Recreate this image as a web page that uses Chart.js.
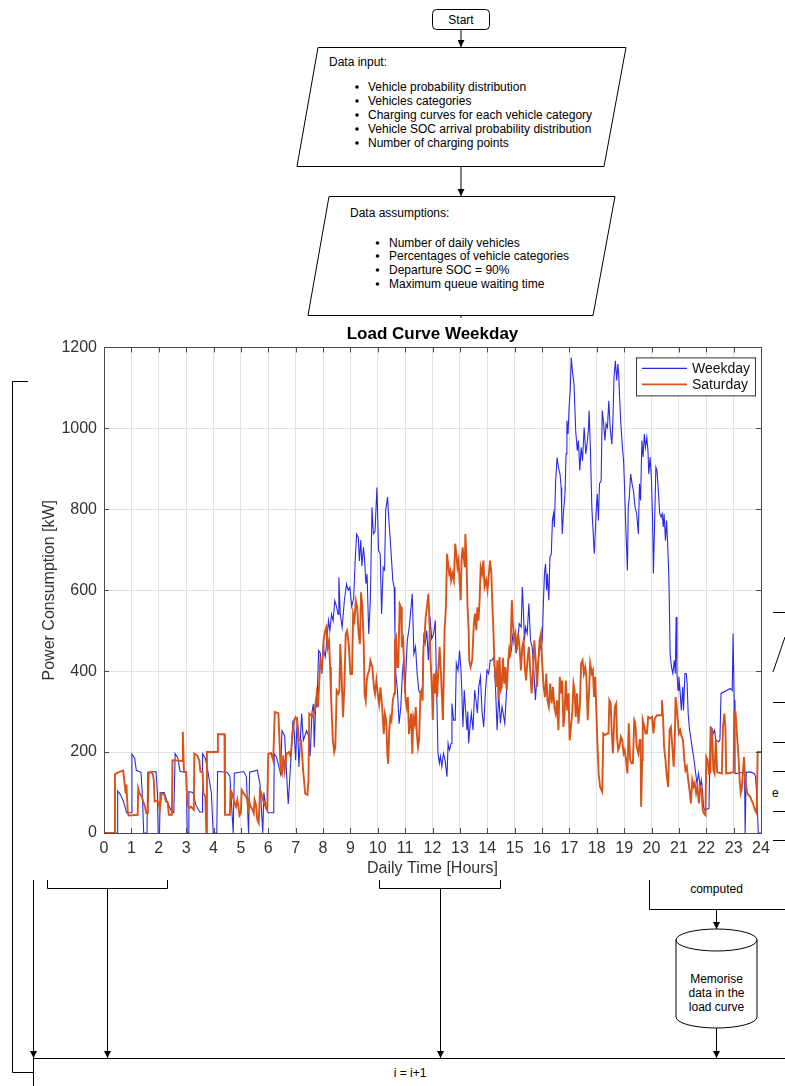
<!DOCTYPE html>
<html>
<head>
<meta charset="utf-8">
<script src="https://cdn.jsdelivr.net/npm/chart.js@4.4.1/dist/chart.umd.min.js"></script>
<style>
  html, body { margin: 0; padding: 0; background: #fff; }
  body { width: 785px; height: 1086px; position: relative; overflow: hidden;
         font-family: "Liberation Sans", Arial, Helvetica, sans-serif; }
  #flow { position: absolute; left: 0; top: 0; }
  #flow text { font-size: 12px; fill: #000; }
  #wrap { position: absolute; left: 28px; top: 318px; width: 743px; height: 562px; background: #fff; }
</style>
</head>
<body>

<svg id="flow" width="785" height="1086">
  <defs>
    <marker id="ah" viewBox="0 0 10 10" refX="10" refY="5" markerWidth="7" markerHeight="7" orient="auto">
      <path d="M0,0 L10,5 L0,10 z" fill="#000"/>
    </marker>
    <linearGradient id="fade" x1="0" y1="0" x2="0" y2="1">
      <stop offset="0" stop-color="#000"/>
      <stop offset="1" stop-color="#fff"/>
    </linearGradient>
  </defs>
  <g fill="none" stroke="#000" stroke-width="1">
    <rect x="432.5" y="9.5" width="57" height="20" rx="4" fill="#fff"/>
    <line x1="461" y1="30" x2="461" y2="47" marker-end="url(#ah)"/>
    <polygon points="318,47.5 626,47.5 604,166.5 297,166.5" fill="#fff"/>
    <line x1="461" y1="166.5" x2="461" y2="196" marker-end="url(#ah)"/>
    <polygon points="329,196.5 615,196.5 593,315.5 308,315.5" fill="#fff"/>
    <line x1="461" y1="315.5" x2="461" y2="330"/>
    <polyline points="28,381.5 12.5,381.5 12.5,1072.5 33,1072.5"/>
    <line x1="27.5" y1="498" x2="27.5" y2="662" stroke="url(#fade)"/>
    <line x1="33.5" y1="880" x2="33.5" y2="1058" marker-end="url(#ah)"/>
    <path d="M47.5,880 V888.5 H167.5 V880"/>
    <line x1="107.5" y1="888.5" x2="107.5" y2="1058" marker-end="url(#ah)"/>
    <path d="M379.5,880 V888.5 H500.5 V880"/>
    <line x1="440.5" y1="888.5" x2="440.5" y2="1058" marker-end="url(#ah)"/>
    <path d="M649.5,880 V909.5 H785"/>
    <line x1="716.5" y1="909.5" x2="716.5" y2="929" marker-end="url(#ah)"/>
    <path d="M676,940 A40.5,11 0 0 1 757,940 V1017 A40.5,11 0 0 1 676,1017 Z" fill="#fff"/>
    <path d="M676,940 A40.5,11 0 0 0 757,940"/>
    <line x1="716.5" y1="1028" x2="716.5" y2="1058" marker-end="url(#ah)"/>
    <line x1="33.5" y1="1058.5" x2="785" y2="1058.5"/>
    <line x1="33.5" y1="1058.5" x2="33.5" y2="1086"/>
    <line x1="773" y1="612.5" x2="785" y2="612.5"/>
    <line x1="773" y1="702.5" x2="785" y2="702.5"/>
    <line x1="773" y1="742.5" x2="785" y2="742.5"/>
    <line x1="773" y1="771.5" x2="785" y2="771.5"/>
    <line x1="773" y1="811.5" x2="785" y2="811.5"/>
    <line x1="773" y1="840.5" x2="785" y2="840.5"/>
    <line x1="773" y1="672" x2="785" y2="637"/>
  </g>
  <g fill="#000" stroke="none">
    <circle cx="357" cy="87" r="1.8"/><circle cx="357" cy="101" r="1.8"/>
    <circle cx="357" cy="115" r="1.8"/><circle cx="357" cy="129" r="1.8"/>
    <circle cx="357" cy="143" r="1.8"/>
    <circle cx="377.5" cy="243" r="1.8"/><circle cx="377.5" cy="256" r="1.8"/>
    <circle cx="377.5" cy="270" r="1.8"/><circle cx="377.5" cy="284" r="1.8"/>
  </g>
  <text x="461" y="23.5" text-anchor="middle">Start</text>
  <text x="329" y="66">Data input:</text>
  <text x="368" y="91">Vehicle probability distribution</text>
  <text x="368" y="105">Vehicles categories</text>
  <text x="368" y="119">Charging curves for each vehicle category</text>
  <text x="368" y="133">Vehicle SOC arrival probability distribution</text>
  <text x="368" y="147">Number of charging points</text>
  <text x="350" y="217">Data assumptions:</text>
  <text x="389" y="247">Number of daily vehicles</text>
  <text x="389" y="260">Percentages of vehicle categories</text>
  <text x="389" y="274">Departure SOC = 90%</text>
  <text x="389" y="288">Maximum queue waiting time</text>
  <text x="716.5" y="893" text-anchor="middle">computed</text>
  <text x="716.5" y="983" text-anchor="middle">Memorise</text>
  <text x="716.5" y="997" text-anchor="middle">data in the</text>
  <text x="716.5" y="1011" text-anchor="middle">load curve</text>
  <text x="410" y="1077" text-anchor="middle">i = i+1</text>
  <text x="772" y="797">e</text>
</svg>

<div id="wrap"><canvas id="chart" width="743" height="562"></canvas></div>

<script>
// Axis ranges and ticks
const hourRange = [0, 24];
const kwRange = [0, 1200];
const hourStep = 1;
const kwStep = 200;

const seriesNames = ['Weekday', 'Saturday'];

// [hour, kW]
const weekdayPoints = [
  [0,0],[0.49,0],[0.5,104],[0.6,95],[0.7,80],[0.78,62],[0.82,50],[1.0,50],[1.02,195],[1.12,185],
  [1.18,155],[1.35,150],[1.4,95],[1.45,0],[1.57,0],[1.6,150],[1.9,152],[1.95,100],[1.98,0],[2.03,0],
  [2.05,100],[2.2,100],[2.3,80],[2.45,55],[2.55,50],[2.6,196],[2.7,185],[2.78,152],[3.0,150],[3.04,0],
  [3.08,0],[3.1,102],[3.25,100],[3.35,70],[3.5,52],[3.58,52],[3.6,196],[3.7,185],[3.8,150],[3.92,100],
  [3.99,0],[4.12,0],[4.15,152],[4.5,150],[4.6,140],[4.72,0],[4.76,148],[5.1,152],[5.2,140],[5.28,0],
  [5.32,150],[5.6,155],[5.7,120],[5.8,0],[5.84,100],[5.92,60],[6.0,50],[6.2,50],[6.22,196],[6.3,188],
  [6.45,146],[6.5,253],[6.6,240],[6.67,146],[6.73,72],[6.8,150],[6.9,278],[6.95,250],[7.0,180],[7.06,286],
  [7.12,163],[7.22,295],[7.28,229],[7.4,253],[7.47,240],[7.53,190],[7.6,300],[7.65,319],[7.68,212],[7.74,332],
  [7.78,310],[7.84,451],[7.9,445],[7.96,393],[8.0,459],[8.08,435],[8.13,467],[8.2,525],[8.25,500],[8.31,541],
  [8.37,525],[8.43,574],[8.49,560],[8.55,541],[8.58,632],[8.63,541],[8.7,508],[8.78,574],[8.86,615],[8.92,600],
  [8.98,607],[9.05,560],[9.12,580],[9.18,681],[9.23,739],[9.29,730],[9.33,672],[9.38,724],[9.42,660],[9.48,706],
  [9.52,672],[9.57,616],[9.61,640],[9.67,492],[9.73,575],[9.79,805],[9.84,739],[9.9,745],[9.97,854],[10.03,698],
  [10.09,690],[10.14,541],[10.2,657],[10.25,650],[10.29,797],[10.36,830],[10.4,780],[10.45,731],[10.49,690],[10.55,624],
  [10.6,607],[10.63,492],[10.66,393],[10.72,352],[10.78,270],[10.84,310],[10.9,393],[10.95,435],[10.99,345],[11.08,476],
  [11.15,508],[11.26,591],[11.32,443],[11.38,460],[11.44,393],[11.5,352],[11.56,345],[11.63,352],[11.68,486],[11.73,468],
  [11.79,500],[11.85,427],[11.91,534],[11.97,480],[12.04,492],[12.1,525],[12.14,394],[12.2,197],[12.25,172],[12.29,190],
  [12.34,164],[12.4,197],[12.46,180],[12.53,139],[12.57,221],[12.62,205],[12.68,221],[12.71,320],[12.77,279],[12.83,279],
  [12.87,419],[12.93,402],[12.99,451],[13.04,402],[13.07,353],[13.11,262],[13.16,353],[13.2,312],[13.26,254],[13.29,300],
  [13.32,221],[13.38,271],[13.42,296],[13.48,254],[13.54,353],[13.59,328],[13.64,296],[13.69,361],[13.75,386],[13.81,300],
  [13.87,262],[13.93,345],[13.99,402],[14.05,394],[14.11,427],[14.17,427],[14.24,435],[14.3,361],[14.36,254],[14.42,345],
  [14.48,271],[14.54,312],[14.58,296],[14.64,271],[14.7,345],[14.76,427],[14.82,435],[14.88,451],[14.94,493],[15.0,493],
  [15.05,444],[15.11,476],[15.17,517],[15.24,509],[15.28,608],[15.31,567],[15.36,476],[15.4,509],[15.46,493],[15.52,567],
  [15.58,476],[15.64,460],[15.7,402],[15.76,328],[15.82,394],[15.89,443],[15.95,460],[16.01,476],[16.05,567],[16.09,641],
  [16.13,665],[16.17,600],[16.2,641],[16.25,575],[16.29,682],[16.34,690],[16.38,772],[16.42,789],[16.45,756],[16.5,871],
  [16.55,928],[16.6,904],[16.66,886],[16.7,854],[16.72,789],[16.74,739],[16.78,789],[16.84,838],[16.88,937],[16.91,1019],
  [16.95,986],[16.99,1052],[17.03,1093],[17.07,1175],[17.11,1142],[17.17,1109],[17.23,994],[17.29,945],[17.33,970],[17.38,896],
  [17.43,953],[17.48,920],[17.54,1002],[17.6,937],[17.66,970],[17.7,1002],[17.72,1044],[17.77,945],[17.82,805],[17.87,740],
  [17.91,690],[17.98,797],[18.02,838],[18.06,772],[18.1,863],[18.16,871],[18.2,1044],[18.24,1019],[18.3,970],[18.34,1011],
  [18.39,1002],[18.44,1068],[18.49,1002],[18.55,961],[18.59,1019],[18.63,1126],[18.68,1167],[18.73,1118],[18.77,1159],[18.8,1134],
  [18.83,1085],[18.88,1011],[18.93,961],[18.98,920],[19.02,846],[19.06,756],[19.12,649],[19.15,805],[19.19,830],[19.24,887],
  [19.29,863],[19.34,846],[19.4,805],[19.46,789],[19.52,739],[19.56,863],[19.6,822],[19.65,970],[19.69,929],[19.74,986],
  [19.78,953],[19.83,978],[19.87,945],[19.9,887],[19.95,929],[20.0,871],[20.04,772],[20.07,641],[20.11,756],[20.16,904],
  [20.2,896],[20.25,846],[20.3,789],[20.35,781],[20.39,789],[20.43,756],[20.46,789],[20.51,723],[20.55,772],[20.59,715],
  [20.63,641],[20.66,534],[20.68,443],[20.73,410],[20.78,394],[20.83,427],[20.87,394],[20.9,534],[20.93,394],[20.97,353],
  [21.0,386],[21.05,345],[21.09,303],[21.14,361],[21.17,303],[21.22,394],[21.27,394],[21.3,370],[21.34,295],[21.39,254],
  [21.43,238],[21.48,213],[21.54,188],[21.6,155],[21.66,123],[21.72,147],[21.78,114],[21.82,131],[21.87,98],[21.9,65],
  [21.94,57],[22.1,61],[22.15,262],[22.21,258],[22.25,246],[22.3,254],[22.35,230],[22.45,225],[22.5,230],[22.54,345],
  [22.88,357],[22.95,352],[22.98,493],[23.02,328],[23.05,147],[23.4,150],[23.42,0],[23.44,0],[23.46,150],[23.6,151],
  [23.75,147],[23.8,140],[23.85,90],[23.9,0],[24,0]
];

const saturdayPoints = [
  [0,0],[0.39,0],[0.4,145],[0.5,149],[0.7,154],[0.74,131],[0.79,98],[0.82,120],[0.87,49],[0.9,43],
  [1.23,45],[1.25,110],[1.3,98],[1.38,90],[1.45,74],[1.5,65],[1.54,49],[1.6,49],[1.63,147],[1.7,151],
  [1.78,147],[1.82,131],[1.85,78],[1.95,80],[2.0,74],[2.04,57],[2.1,98],[2.2,95],[2.27,78],[2.33,74],
  [2.37,45],[2.48,45],[2.5,180],[2.85,178],[2.88,250],[2.92,151],[3.0,151],[3.04,78],[3.1,61],[3.18,65],
  [3.28,57],[3.3,196],[3.4,192],[3.48,180],[3.52,151],[3.6,151],[3.63,98],[3.7,90],[3.74,0],[3.76,200],
  [4.13,200],[4.16,244],[4.4,244],[4.42,45],[4.6,45],[4.62,106],[4.68,98],[4.75,78],[4.82,65],[4.87,82],
  [4.9,70],[4.95,43],[5.0,49],[5.03,106],[5.1,98],[5.18,90],[5.24,82],[5.27,49],[5.3,78],[5.36,65],
  [5.43,57],[5.47,49],[5.5,82],[5.55,70],[5.6,33],[5.65,25],[5.7,106],[5.75,98],[5.8,82],[5.87,70],
  [5.9,65],[5.96,57],[6.0,196],[6.1,198],[6.18,180],[6.24,299],[6.37,296],[6.41,229],[6.45,155],[6.5,146],
  [6.55,192],[6.6,155],[6.67,196],[6.75,200],[6.82,188],[6.88,240],[6.95,280],[7.0,286],[7.06,278],[7.12,229],
  [7.2,229],[7.28,150],[7.35,97],[7.43,94],[7.47,130],[7.5,295],[7.58,290],[7.64,286],[7.71,311],[7.77,344],
  [7.82,311],[7.9,426],[7.95,410],[8.0,443],[8.02,476],[8.08,500],[8.12,508],[8.17,459],[8.22,476],[8.26,410],
  [8.29,344],[8.32,295],[8.36,229],[8.41,200],[8.45,212],[8.5,352],[8.56,344],[8.6,352],[8.63,467],[8.67,410],
  [8.73,286],[8.78,360],[8.83,492],[8.88,500],[8.94,467],[9.0,393],[9.06,393],[9.1,541],[9.15,525],[9.2,574],
  [9.25,558],[9.3,492],[9.35,467],[9.39,595],[9.44,558],[9.49,459],[9.52,344],[9.56,327],[9.6,377],[9.64,393],
  [9.69,402],[9.73,426],[9.8,410],[9.86,360],[9.9,344],[9.95,377],[10.0,344],[10.05,319],[10.1,360],[10.16,311],
  [10.22,245],[10.26,295],[10.31,278],[10.35,196],[10.38,171],[10.42,253],[10.46,286],[10.5,278],[10.55,327],[10.6,344],
  [10.63,476],[10.67,484],[10.71,410],[10.75,410],[10.8,566],[10.85,558],[10.88,459],[10.93,476],[10.97,393],[11.02,327],
  [11.06,311],[11.1,336],[11.14,245],[11.18,270],[11.22,295],[11.26,196],[11.3,286],[11.35,270],[11.39,311],[11.43,245],
  [11.47,212],[11.51,229],[11.56,344],[11.6,352],[11.64,327],[11.67,459],[11.71,484],[11.75,533],[11.8,560],[11.85,591],
  [11.89,517],[11.93,427],[11.98,353],[12.01,279],[12.05,394],[12.1,345],[12.13,402],[12.17,336],[12.22,410],[12.26,460],
  [12.31,394],[12.34,345],[12.38,279],[12.41,378],[12.44,501],[12.49,558],[12.53,690],[12.57,665],[12.61,641],[12.65,649],
  [12.68,624],[12.73,641],[12.78,624],[12.83,715],[12.87,690],[12.91,657],[12.95,673],[12.99,624],[13.03,575],[13.06,673],
  [13.1,706],[13.14,681],[13.18,657],[13.2,739],[13.24,681],[13.28,558],[13.32,501],[13.34,427],[13.39,410],[13.45,427],
  [13.51,517],[13.55,542],[13.6,501],[13.64,558],[13.68,525],[13.72,575],[13.76,657],[13.81,641],[13.86,673],[13.9,608],
  [13.96,625],[14.01,600],[14.06,641],[14.1,673],[14.15,641],[14.18,575],[14.22,509],[14.26,427],[14.3,386],[14.33,361],
  [14.37,427],[14.41,328],[14.45,435],[14.49,353],[14.53,361],[14.57,433],[14.62,369],[14.66,410],[14.71,353],[14.76,419],
  [14.8,451],[14.84,435],[14.9,575],[14.93,525],[14.98,476],[15.03,493],[15.08,451],[15.13,493],[15.18,460],[15.23,402],
  [15.28,460],[15.33,476],[15.37,410],[15.42,377],[15.47,427],[15.52,460],[15.57,402],[15.62,345],[15.67,394],[15.72,476],
  [15.77,427],[15.82,361],[15.87,427],[15.91,476],[15.96,493],[16.0,427],[16.06,361],[16.11,336],[16.16,394],[16.2,328],
  [16.25,312],[16.3,369],[16.35,320],[16.4,361],[16.45,312],[16.5,295],[16.55,328],[16.6,254],[16.65,386],[16.7,345],
  [16.74,377],[16.78,262],[16.82,287],[16.87,377],[16.92,303],[16.97,345],[17.01,229],[17.06,262],[17.11,303],[17.15,369],
  [17.19,353],[17.23,287],[17.28,345],[17.33,270],[17.38,312],[17.43,419],[17.48,427],[17.53,394],[17.58,410],[17.62,386],
  [17.67,279],[17.72,353],[17.76,419],[17.82,394],[17.86,402],[17.9,336],[17.94,386],[17.98,312],[18.02,229],[18.07,147],
  [18.12,114],[18.2,102],[18.24,246],[18.3,242],[18.38,246],[18.43,246],[18.46,328],[18.51,320],[18.55,246],[18.59,197],
  [18.62,246],[18.66,312],[18.71,320],[18.74,238],[18.78,205],[18.83,213],[18.88,238],[18.93,230],[18.98,197],[19.02,205],
  [19.07,180],[19.12,147],[19.17,271],[19.22,180],[19.27,172],[19.32,172],[19.37,279],[19.41,271],[19.46,213],[19.52,197],
  [19.57,230],[19.6,230],[19.62,65],[19.66,180],[19.68,279],[19.74,262],[19.78,246],[19.83,246],[19.88,287],[19.95,283],
  [20.02,287],[20.07,246],[20.12,283],[20.2,291],[20.3,291],[20.35,291],[20.38,328],[20.42,287],[20.46,213],[20.51,180],
  [20.56,139],[20.61,114],[20.66,254],[20.71,262],[20.76,213],[20.81,164],[20.85,229],[20.88,336],[20.91,320],[20.95,287],
  [21.0,246],[21.05,254],[21.1,238],[21.15,230],[21.2,180],[21.24,155],[21.29,164],[21.34,131],[21.39,106],[21.44,73],
  [21.49,131],[21.54,115],[21.58,123],[21.63,98],[21.68,115],[21.73,73],[21.78,114],[21.83,106],[21.87,57],[21.91,49],
  [21.97,44],[22.0,188],[22.05,180],[22.1,147],[22.15,150],[22.18,262],[22.22,246],[22.26,155],[22.3,147],[22.35,230],
  [22.4,150],[22.57,147],[22.61,262],[22.66,295],[22.7,262],[22.73,147],[23.0,150],[23.02,300],[23.07,299],[23.12,246],
  [23.17,197],[23.22,131],[23.26,98],[23.3,110],[23.38,188],[23.42,131],[23.5,98],[23.6,90],[23.7,74],[23.78,57],
  [23.84,49],[23.88,200],[24,200]
];

const FONT = '"Liberation Sans", Arial, Helvetica, sans-serif';
Chart.defaults.font.family = FONT;
Chart.defaults.color = '#333';

const toXY = pts => pts.map(p => ({ x: p[0], y: p[1] }));

// MATLAB-like box, inward ticks and inset legend
const axesBox = {
  id: 'axesBox',
  afterDatasetsDraw(chart) {
    const { ctx, chartArea: a, scales: { x, y } } = chart;
    ctx.save();
    ctx.strokeStyle = '#4a4a4a';
    ctx.lineWidth = 1;
    ctx.beginPath();
    x.ticks.forEach(t => {
      const px = Math.round(x.getPixelForValue(t.value)) + 0.5;
      ctx.moveTo(px, a.bottom); ctx.lineTo(px, a.bottom - 5);
      ctx.moveTo(px, a.top); ctx.lineTo(px, a.top + 5);
    });
    y.ticks.forEach(t => {
      const py = Math.round(y.getPixelForValue(t.value)) + 0.5;
      ctx.moveTo(a.left, py); ctx.lineTo(a.left + 5, py);
      ctx.moveTo(a.right, py); ctx.lineTo(a.right - 5, py);
    });
    ctx.stroke();
    ctx.strokeRect(Math.round(a.left) + 0.5, Math.round(a.top) + 0.5,
                   Math.round(a.right - a.left), Math.round(a.bottom - a.top));

    // legend box in the upper right corner
    const lx = a.right - 125, ly = a.top + 10, lw = 119, lh = 38;
    ctx.fillStyle = '#fff';
    ctx.fillRect(lx, ly, lw, lh);
    ctx.strokeStyle = '#333';
    ctx.strokeRect(lx + 0.5, ly + 0.5, lw, lh);
    ctx.font = '14px ' + FONT;
    ctx.textBaseline = 'middle';
    const shown = [0, 1];
    shown.forEach((i, k) => {
      const ds = chart.data.datasets[i];
      const ry = ly + 11 + k * 16;
      ctx.strokeStyle = ds.borderColor;
      ctx.lineWidth = ds.borderWidth;
      ctx.beginPath();
      ctx.moveTo(lx + 6, ry); ctx.lineTo(lx + 51, ry);
      ctx.stroke();
      ctx.fillStyle = '#111';
      ctx.fillText(ds.label, lx + 56, ry + 1);
    });
    ctx.restore();
  }
};

new Chart(document.getElementById('chart'), {
  type: 'line',
  data: {
    datasets: [
      { label: seriesNames[0], data: toXY(weekdayPoints), borderColor: '#2a2ae6',
        borderWidth: 1.1, pointRadius: 0, tension: 0, order: 1 },
      { label: seriesNames[1], data: toXY(saturdayPoints), borderColor: '#d95319',
        borderWidth: 1.9, pointRadius: 0, tension: 0, order: 0 }
    ]
  },
  options: {
    responsive: false,
    animation: false,
    devicePixelRatio: 1,
    layout: { padding: { left: 0, right: 10, top: 0, bottom: 0 } },
    plugins: {
      legend: { display: false },
      tooltip: { enabled: false },
      title: {
        display: true, text: 'Load Curve Weekday', fullSize: false,
        color: '#000', font: { size: 17, weight: 'bold' },
        padding: { top: 6, bottom: 3 }
      }
    },
    scales: {
      x: {
        type: 'linear', min: hourRange[0], max: hourRange[1],
        ticks: { stepSize: hourStep, autoSkip: false, maxRotation: 0, padding: 6,
                 color: '#333', font: { size: 16 } },
        grid: { color: '#e2e2e2', drawTicks: false },
        border: { display: false },
        title: { display: true, text: 'Daily Time [Hours]', color: '#333',
                 font: { size: 16 }, padding: { top: 0, bottom: 2 } },
        afterFit: s => { s.height = 47; s.paddingLeft = 0; s.paddingRight = 0; }
      },
      y: {
        type: 'linear', min: kwRange[0], max: kwRange[1],
        ticks: { stepSize: kwStep, padding: 7, color: '#333', font: { size: 16 },
                 callback: v => String(v) },
        grid: { color: '#e2e2e2', drawTicks: false },
        border: { display: false },
        title: { display: true, text: 'Power Consumption [kW]', color: '#333',
                 font: { size: 16 }, padding: { top: 12, bottom: 0 } },
        afterFit: s => { s.width = 76; }
      }
    }
  },
  plugins: [axesBox]
});
</script>
</body>
</html>
